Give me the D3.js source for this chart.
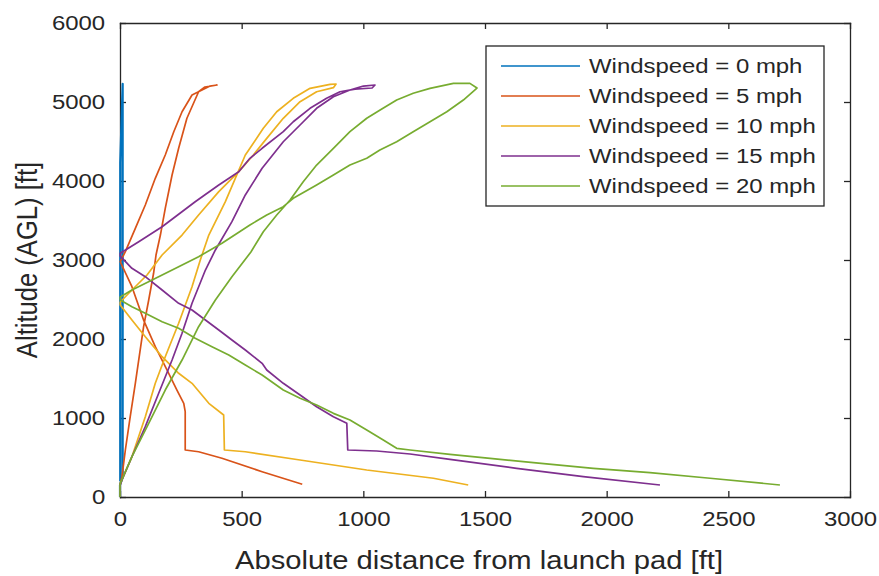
<!DOCTYPE html>
<html>
<head>
<meta charset="utf-8">
<script src="https://cdn.jsdelivr.net/npm/d3@7"></script>
<style>
  body { margin: 0; background: #fff; }
  text { font-family: "Liberation Sans", Arial, sans-serif; fill: #262626; }
</style>
</head>
<body>
<div id="chart"></div>
<script>
// data: [distance from pad (ft), altitude AGL (ft)]
var wind0 = [[0,0],[0,150],[11,250],[11,5230],[1,4230],[1,200]];
var wind5 = [[0,0],[0,150],[8,257],[22,595],[42,1016],[63,1439],[83,1861],[97,2156],[118,2494],[138,2832],[148,3063],
  [166,3316],[186,3654],[214,4076],[241,4414],[275,4794],[323,5130],[349,5190],[399,5215],
  [370,5202],[296,5089],[255,4877],[221,4624],[186,4329],[145,4034],[104,3696],[63,3401],[22,3105],[1,2978],
  [49,2662],[97,2240],[145,1903],[193,1608],[234,1354],[262,1186],[268,1080],[268,595],
  [323,573],[419,490],[584,320],[749,161]];
var wind10 = [[0,0],[0,150],[8,215],[49,510],[104,1016],[145,1439],[186,1776],[241,2199],[296,2662],[330,3000],
  [365,3316],[433,3738],[515,4329],[534,4414],[589,4667],[644,4877],[712,5047],[781,5173],[863,5224],[888,5228],
  [877,5181],[808,5130],[740,5004],[671,4794],[603,4540],[548,4329],[488,4118],[406,3865],[323,3570],[255,3316],
  [173,3063],[111,2810],[49,2620],[1,2468],[1,2430],
  [49,2240],[104,2029],[173,1776],[241,1566],[296,1439],[365,1186],[426,1038],[429,595],
  [515,573],[740,468],[1014,342],[1288,237],[1431,152]];
var wind15 = [[0,0],[0,150],[8,215],[49,510],[104,890],[159,1313],[214,1734],[255,2072],[296,2452],[351,2873],
  [392,3127],[460,3485],[515,3823],[584,4161],[671,4497],[740,4709],[808,4920],[877,5067],[945,5152],[1000,5202],[1048,5215],
  [1036,5177],[966,5164],[904,5130],[849,5047],[781,4920],[712,4750],[671,4624],[584,4414],[534,4287],
  [488,4118],[406,3949],[309,3738],[173,3421],[77,3232],[1,3085],[1,3050],
  [49,2895],[104,2789],[173,2620],[241,2452],[296,2367],[351,2240],[406,2114],[460,1987],[515,1861],[584,1692],
  [603,1608],[671,1439],[740,1291],[808,1143],[877,1016],[932,933],[936,595],
  [1055,582],[1192,544],[1356,477],[1630,363],[1904,257],[2219,152]];
var wind20 = [[0,0],[0,150],[1,173],[49,510],[118,933],[186,1354],[255,1734],[323,2156],[392,2494],[460,2789],
  [538,3101],[589,3358],[644,3570],[699,3759],[753,3991],[808,4202],[877,4414],[945,4624],[1014,4794],[1069,4899],
  [1137,5025],[1205,5110],[1274,5173],[1370,5236],[1438,5236],[1467,5177],
  [1411,5025],[1343,4877],[1274,4750],[1205,4624],[1137,4497],[1068,4392],[1014,4287],[945,4202],[877,4076],
  [808,3949],[712,3781],[671,3675],[603,3570],[534,3443],[419,3211],[323,3042],[241,2915],[132,2747],[49,2620],[1,2532],[1,2494],
  [49,2409],[104,2325],[173,2219],[241,2135],[309,2009],[378,1903],[447,1797],[515,1671],[584,1544],[671,1354],
  [740,1249],[808,1165],[877,1059],[945,975],[1014,848],[1082,722],[1137,616],[1192,595],
  [1356,540],[1521,490],[1699,434],[1945,363],[2178,308],[2425,237],[2712,152]];

var seriesData = [wind0, wind5, wind10, wind15, wind20];
var legendLabels = ["Windspeed = 0 mph", "Windspeed = 5 mph", "Windspeed = 10 mph", "Windspeed = 15 mph", "Windspeed = 20 mph"];
var colors = ["#0072BD", "#D95319", "#EDB120", "#7E2F8E", "#77AC30"];
var xTicks = [0, 500, 1000, 1500, 2000, 2500, 3000];
var yTicks = [0, 1000, 2000, 3000, 4000, 5000, 6000];

(function () {
  var width = 879, height = 576;
  var mLeft = 120, mRight = 850, mTop = 23, mBottom = 497;
  var sx = 1.14; // the figure is stretched horizontally
  var axisColor = "#262626";

  var svg = d3.select("#chart").append("svg")
      .attr("width", width)
      .attr("height", height);

  var x = d3.scaleLinear().domain([0, 3000]).range([mLeft, mRight]);
  var y = d3.scaleLinear().domain([0, 6000]).range([mBottom, mTop]);

  // axes (ticks point inward, box on)
  function styleAxis(g) {
    g.selectAll("path, line").attr("stroke", axisColor).attr("stroke-width", 1.3);
    g.selectAll("text").attr("fill", axisColor).attr("font-size", "21px");
  }

  svg.append("g")
      .attr("transform", "translate(0," + mBottom + ")")
      .call(d3.axisBottom(x).tickValues(xTicks).tickFormat(d3.format("d"))
        .tickSizeInner(-6).tickSizeOuter(0).tickPadding(14))
      .call(styleAxis)
      .selectAll("text").attr("transform", "scale(" + sx + ",1)");

  svg.append("g")
      .attr("transform", "translate(" + mLeft + ",0)")
      .call(d3.axisLeft(y).tickValues(yTicks).tickFormat(d3.format("d"))
        .tickSizeInner(-6).tickSizeOuter(0).tickPadding(13))
      .call(styleAxis)
      .selectAll("text").attr("transform", "scale(" + sx + ",1)");

  svg.append("g")
      .attr("transform", "translate(0," + mTop + ")")
      .call(d3.axisTop(x).tickValues(xTicks).tickSizeInner(-6).tickSizeOuter(0).tickFormat(""))
      .call(styleAxis);

  svg.append("g")
      .attr("transform", "translate(" + mRight + ",0)")
      .call(d3.axisRight(y).tickValues(yTicks).tickSizeInner(-6).tickSizeOuter(0).tickFormat(""))
      .call(styleAxis);

  svg.selectAll(".domain").attr("stroke-linecap", "square");

  // lines
  var line = d3.line()
      .x(function (d) { return x(d[0]); })
      .y(function (d) { return y(d[1]); });

  svg.append("g").selectAll("path")
      .data(seriesData)
      .enter().append("path")
      .attr("d", line)
      .attr("fill", "none")
      .attr("stroke", function (d, i) { return colors[i]; })
      .attr("stroke-width", function (d, i) { return i === 0 ? 2.2 : 1.7; })
      .attr("stroke-linejoin", "round");

  // axis labels
  svg.append("text")
      .attr("transform", "translate(479,569) scale(" + sx + ",1)")
      .attr("text-anchor", "middle")
      .attr("font-size", "25.6px")
      .text("Absolute distance from launch pad [ft]");

  svg.append("text")
      .attr("transform", "translate(37," + ((mTop + mBottom) / 2) + ") scale(" + sx + ",1) rotate(-90)")
      .attr("text-anchor", "middle")
      .attr("font-size", "25.6px")
      .text("Altitude (AGL) [ft]");

  // legend
  var legend = svg.append("g");
  legend.append("rect")
      .attr("x", 486).attr("y", 46)
      .attr("width", 338).attr("height", 160)
      .attr("fill", "#fff")
      .attr("stroke", axisColor)
      .attr("stroke-width", 1.3);

  var items = legend.selectAll("g.item")
      .data(legendLabels)
      .enter().append("g")
      .attr("class", "item")
      .attr("transform", function (d, i) { return "translate(0," + (66 + i * 30) + ")"; });

  items.append("line")
      .attr("x1", 501).attr("x2", 580)
      .attr("stroke", function (d, i) { return colors[i]; })
      .attr("stroke-width", 1.7);

  items.append("text")
      .attr("transform", "translate(589,0) scale(" + sx + ",1)")
      .attr("dy", "0.35em")
      .attr("font-size", "21px")
      .text(function (d) { return d; });
})();
</script>
</body>
</html>
